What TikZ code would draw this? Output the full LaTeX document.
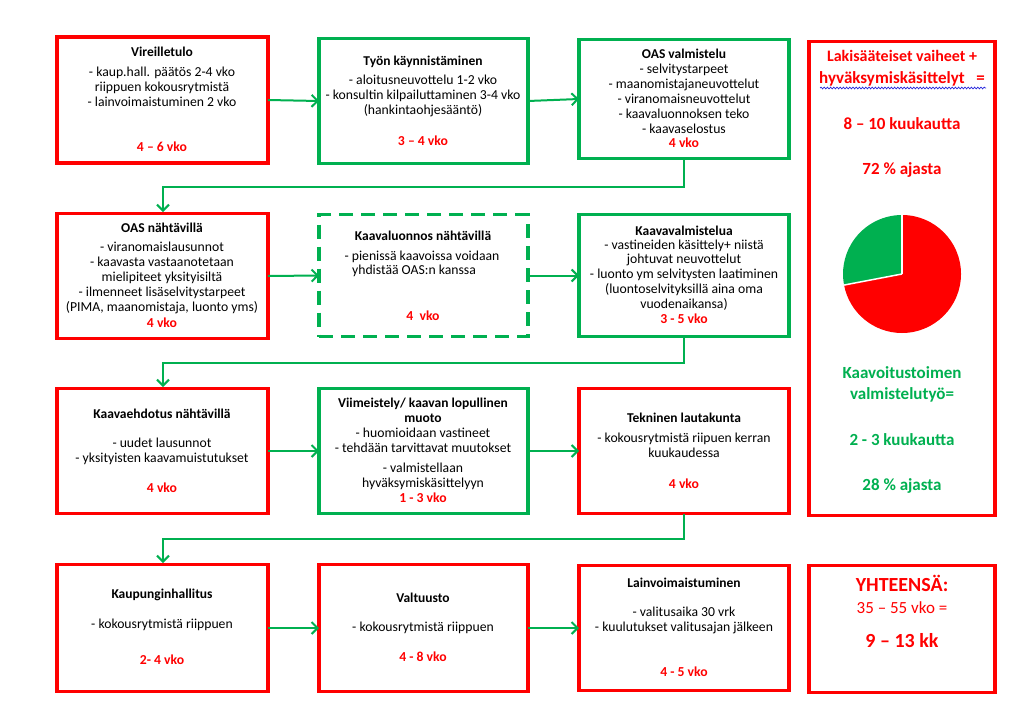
\documentclass[tikz,border=0pt]{standalone}
\usepackage{fontspec}
\setmainfont{Carlito}
\usetikzlibrary{arrows.meta,decorations.pathmorphing}
\definecolor{myred}{RGB}{255,0,0}
\definecolor{mygreen}{RGB}{0,176,80}
\definecolor{myblue}{RGB}{40,40,220}
\tikzset{
  box/.style={line width=3.5pt, inner sep=0pt, outer sep=0pt, fill=white},
  redbox/.style={box, draw=myred},
  greenbox/.style={box, draw=mygreen},
  dashbox/.style={box, draw=mygreen, dash pattern=on 14pt off 8pt},
  txt/.style={inner sep=0pt, align=center, text=black, font=\fontsize{13.7}{14.9}\selectfont},
  ttl/.style={inner sep=0pt, align=center, text=black, font=\fontsize{13.5}{15}\selectfont\bfseries},
  dur/.style={inner sep=0pt, align=center, text=myred, font=\fontsize{13.7}{15}\selectfont\bfseries},
  bigred/.style={inner sep=0pt, align=center, text=myred, font=\fontsize{17}{20}\selectfont\bfseries},
  biggreen/.style={inner sep=0pt, align=center, text=mygreen, font=\fontsize{17}{20}\selectfont\bfseries},
  conn/.style={draw=mygreen, line width=2pt, -{Straight Barb[length=6pt,width=12pt,line width=2pt]}}
}
\begin{document}
\begin{tikzpicture}[x=1pt,y=-1pt]
\useasboundingbox (0,0) rectangle (1024,720);
\fill[white] (0,0) rectangle (1024,720);

% ---------- boxes ----------
\node[redbox,   minimum width=211, minimum height=126] (vir)  at (162.5,100) {};
\node[greenbox, minimum width=209, minimum height=125] (tyon) at (423.5,101) {};
\node[greenbox, minimum width=210, minimum height=119] (oasv) at (684,99) {};

\node[redbox,   minimum width=211, minimum height=125] (oasn) at (162.5,276) {};
\node[dashbox,  minimum width=209, minimum height=122] (kl)   at (423.5,275.5) {};
\node[greenbox, minimum width=210, minimum height=122] (kv)   at (684,275.5) {};

\node[redbox,   minimum width=211, minimum height=125] (ke)   at (162.5,451) {};
\node[greenbox, minimum width=209, minimum height=125] (vii)  at (423.5,451) {};
\node[redbox,   minimum width=210, minimum height=125] (tek)  at (684,451) {};

\node[redbox,   minimum width=211, minimum height=127] (kh)   at (162.5,628) {};
\node[redbox,   minimum width=209, minimum height=127] (val)  at (423.5,628) {};
\node[redbox,   minimum width=210, minimum height=125] (lv)   at (684,628) {};

\node[redbox,   minimum width=186, minimum height=474] (big)  at (902,278.5) {};
\node[redbox,   minimum width=186, minimum height=127] (yht)  at (902,629) {};

% ---------- connectors ----------
\draw[conn] (vir.east) -- (tyon.west);
\draw[conn] (tyon.east) -- (oasv.west);
\coordinate (e1) at (684,187);
\coordinate (f1) at (163,187);
\draw[conn] (oasv.south) -- (e1) -- (f1) -- ([yshift=1.5pt]oasn.north -| f1);

\draw[conn] (oasn.east) -- (kl.west);
\draw[conn] (kl.east) -- (kv.west);
\coordinate (e2) at (684,363);
\coordinate (f2) at (163,363);
\draw[conn] (kv.south) -- (e2) -- (f2) -- ([yshift=1.5pt]ke.north -| f2);

\draw[conn] (ke.east) -- (vii.west);
\draw[conn] (vii.east) -- (tek.west);
\coordinate (e3) at (684,539);
\coordinate (f3) at (163,539);
\draw[conn] (tek.south) -- (e3) -- (f3) -- ([yshift=1.5pt]kh.north -| f3);

\draw[conn] (kh.east) -- (val.west);
\draw[conn] (val.east) -- (lv.west);

% ---------- row 1 texts ----------
\node[ttl] (vir-t) at (162,52) {Vireilletulo};
\node[txt] (vir-b) at (162,87) {- kaup.hall. päätös 2-4 vko\\riippuen kokousrytmistä\\- lainvoimaistuminen 2 vko};
\node[dur] (vir-d) at (162,147) {4 – 6 vko};

\node[ttl] (tyon-t) at (423,62) {Työn käynnistäminen};
\node[txt] (tyon-b) at (423,96) {- aloitusneuvottelu 1-2 vko\\- konsultin kilpailuttaminen 3-4 vko\\(hankintaohjesääntö)};
\node[dur] (tyon-d) at (423,141) {3 – 4 vko};

\node[ttl] (oasv-t) at (684,54) {OAS valmistelu};
\node[txt] (oasv-b) at (684,98.5) {- selvitystarpeet\\- maanomistajaneuvottelut\\- viranomaisneuvottelut\\- kaavaluonnoksen teko\\- kaavaselostus};
\node[dur] (oasv-d) at (684,143) {4 vko};

% ---------- row 2 texts ----------
\node[ttl] (oasn-t) at (162,228) {OAS nähtävillä};
\node[txt] (oasn-b) at (162,278) {- viranomaislausunnot\\- kaavasta vastaanotetaan\\mielipiteet yksityisiltä\\- ilmenneet lisäselvitystarpeet\\(PIMA, maanomistaja, luonto yms)};
\node[dur] (oasn-d) at (162,323) {4 vko};

\node[ttl] (kl-t) at (423,236) {Kaavaluonnos nähtävillä};
\node[txt] (kl-b1) at (422,257) {- pienissä kaavoissa voidaan};
\node[txt] (kl-b2) at (414,271) {yhdistää OAS:n kanssa};
\node[dur] (kl-d) at (423,316) {4\ \ vko};

\node[ttl] (kv-t) at (684,231) {Kaavavalmistelua};
\node[txt] (kv-b) at (684,275) {- vastineiden käsittely+ niistä\\johtuvat neuvottelut\\- luonto ym selvitysten laatiminen\\(luontoselvityksillä aina oma\\vuodenaikansa)};
\node[dur] (kv-d) at (684,319) {3 - 5 vko};

% ---------- row 3 texts ----------
\node[ttl] (ke-t) at (162,414) {Kaavaehdotus nähtävillä};
\node[txt] (ke-b) at (162,451.5) {- uudet lausunnot\\- yksityisten kaavamuistutukset};
\node[dur] (ke-d) at (162,488) {4 vko};

\node[ttl] (vii-t) at (423,410.5) {Viimeistely/ kaavan lopullinen\\muoto};
\node[txt] (vii-b1) at (423,440) {- huomioidaan vastineet\\- tehdään tarvittavat muutokset};
\node[txt] (vii-b2) at (423,476.5) {- valmistellaan\\hyväksymiskäsittelyyn};
\node[dur] (vii-d) at (423,498) {1 - 3 vko};

\node[ttl] (tek-t) at (684,418) {Tekninen lautakunta};
\node[txt] (tek-b) at (684,445.5) {- kokousrytmistä riipuen kerran\\kuukaudessa};
\node[dur] (tek-d) at (684,484) {4 vko};

% ---------- row 4 texts ----------
\node[ttl] (kh-t) at (162,595) {Kaupunginhallitus};
\node[txt] (kh-b) at (162,625) {- kokousrytmistä riippuen};
\node[dur] (kh-d) at (162,660) {2- 4 vko};

\node[ttl] (val-t) at (423,598) {Valtuusto};
\node[txt] (val-b) at (423,628) {- kokousrytmistä riippuen};
\node[dur] (val-d) at (423,657) {4 - 8 vko};

\node[ttl] (lv-t) at (684,583) {Lainvoimaistuminen};
\node[txt] (lv-b) at (684,620.5) {- valitusaika 30 vrk\\- kuulutukset valitusajan jälkeen};
\node[dur] (lv-d) at (684,672) {4 - 5 vko};

% ---------- total box ----------
\node[inner sep=0pt, text=myred, font=\fontsize{20}{24}\selectfont\bfseries] (yht-t) at (902,583) {YHTEENSÄ:};
\node[inner sep=0pt, text=myred, font=\fontsize{17}{20}\selectfont] (yht-b) at (902,608) {35 – 55 vko =};
\node[inner sep=0pt, text=myred, font=\fontsize{20}{24}\selectfont\bfseries] (yht-d) at (902,641) {9 – 13 kk};

% ---------- big box ----------
\node[bigred, font=\fontsize{16}{20}\selectfont\bfseries] (big-1) at (902,56) {Lakisääteiset vaiheet +};
\node[bigred] (big-2) at (902,79) {hyväksymiskäsittelyt\ \ \ =};
\draw[myblue, line width=0.7pt, decorate, decoration={snake, amplitude=0.9pt, segment length=3.2pt}] (820,88) -- (986,88);
\node[bigred] (big-3) at (902,124) {8 – 10 kuukautta};
\node[bigred] (big-4) at (902,170) {72 \% ajasta};
\node[biggreen] (big-5) at (902,373) {Kaavoitustoimen};
\node[biggreen] (big-6) at (902,395) {valmistelutyö=};
\node[biggreen] (big-7) at (902,440) {2 - 3 kuukautta};
\node[biggreen] (big-8) at (902,486) {28 \% ajasta};

% ---------- pie ----------
\coordinate (pc) at (902,274);
\fill[myred] (pc) -- ++(90:59pt) arc[start angle=90, end angle=-169.2, radius=59pt] -- cycle;
\fill[mygreen] (pc) -- ++(90:59pt) arc[start angle=90, end angle=190.8, radius=59pt] -- cycle;
\draw[white, line width=1.5pt] (pc) -- ++(90:59.5pt);
\draw[white, line width=1.5pt] (pc) -- ++(190.8:59.5pt);
\end{tikzpicture}
\end{document}
